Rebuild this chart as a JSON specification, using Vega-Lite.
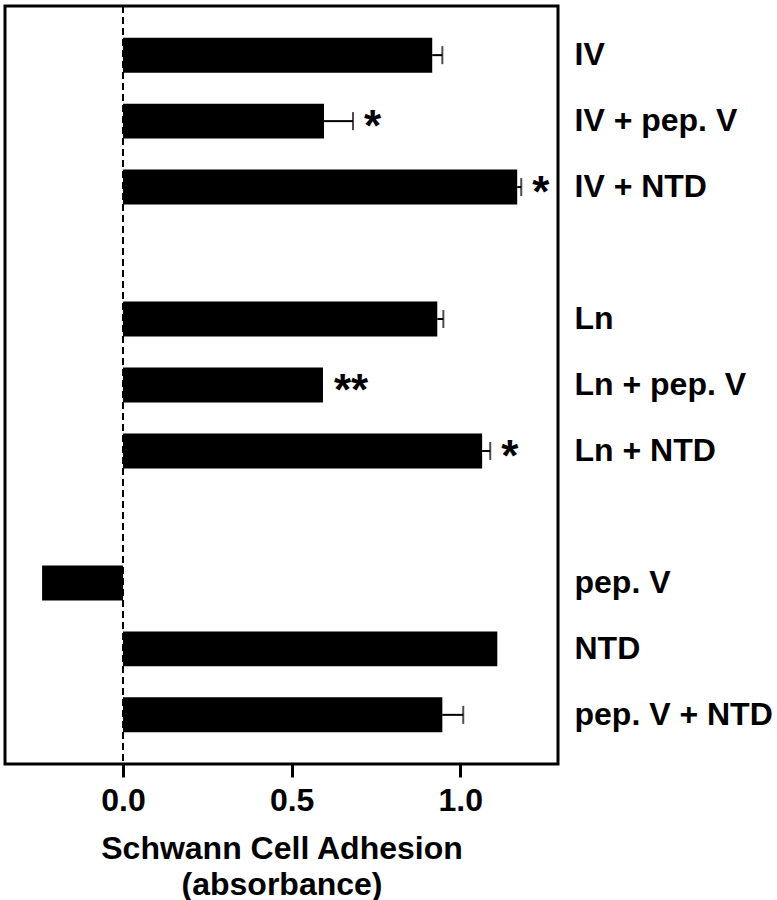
{
  "$schema": "https://vega.github.io/schema/vega-lite/v6.json",
  "autosize": {"type": "none"},
  "padding": {"left": 5, "top": 6, "right": 219, "bottom": 136},
  "width": 553,
  "height": 758,
  "background": "white",
  "config": {
    "view": {"stroke": "black", "strokeWidth": 3},
    "font": "Liberation Sans"
  },
  "data": {
    "values": [
      {"cond": "IV", "mean": 0.917, "hi": 0.947, "sig": ""},
      {"cond": "IV + pep. V", "mean": 0.596, "hi": 0.682, "sig": "*"},
      {"cond": "IV + NTD", "mean": 1.169, "hi": 1.181, "sig": "*"},
      {"cond": "Ln", "mean": 0.932, "hi": 0.95, "sig": ""},
      {"cond": "Ln + pep. V", "mean": 0.593, "hi": 0.593, "sig": "**"},
      {"cond": "Ln + NTD", "mean": 1.065, "hi": 1.089, "sig": "*"},
      {"cond": "pep. V", "mean": -0.24, "hi": -0.24, "sig": ""},
      {"cond": "NTD", "mean": 1.11, "hi": 1.11, "sig": ""},
      {"cond": "pep. V + NTD", "mean": 0.947, "hi": 1.009, "sig": ""}
    ]
  },
  "encoding": {
    "y": {
      "field": "cond",
      "type": "nominal",
      "scale": {
        "domain": ["IV", "IV + pep. V", "IV + NTD", "gap1", "Ln", "Ln + pep. V", "Ln + NTD", "gap2", "pep. V", "NTD", "pep. V + NTD"],
        "paddingInner": 0.47,
        "paddingOuter": 0.48
      },
      "axis": {
        "orient": "right",
        "values": ["IV", "IV + pep. V", "IV + NTD", "Ln", "Ln + pep. V", "Ln + NTD", "pep. V", "NTD", "pep. V + NTD"],
        "title": null,
        "domain": false,
        "ticks": false,
        "labelPadding": 16,
        "labelFontSize": 32,
        "labelFontWeight": "bold",
        "labelColor": "black",
        "labelAlign": "left",
        "labelLimit": 0
      }
    }
  },
  "layer": [
    {
      "data": {"values": [{"z": 0}]},
      "mark": {"type": "rule", "strokeDash": [7, 4], "strokeWidth": 2, "color": "black"},
      "encoding": {
        "x": {"field": "z", "type": "quantitative"},
        "y": null
      }
    },
    {
      "mark": {"type": "bar", "color": "black"},
      "encoding": {
        "x": {
          "field": "mean",
          "type": "quantitative",
          "scale": {"domain": [-0.35, 1.29], "nice": false, "zero": false},
          "axis": {
            "values": [0, 0.5, 1],
            "format": ".1f",
            "grid": false,
            "domain": false,
            "ticks": true,
            "tickSize": 13,
            "tickWidth": 3,
            "tickColor": "black",
            "labelPadding": 8,
            "labelFontSize": 32,
            "labelFontWeight": "bold",
            "labelColor": "black",
            "title": ["Schwann Cell Adhesion", "(absorbance)"],
            "titleFontSize": 32,
            "titleFontWeight": "bold",
            "titleColor": "black",
            "titleLineHeight": 36,
            "titlePadding": 17
          }
        },
        "x2": {"datum": 0}
      }
    },
    {
      "transform": [{"filter": "datum.hi > datum.mean"}],
      "mark": {"type": "rule", "strokeWidth": 2, "color": "black"},
      "encoding": {
        "x": {"field": "mean", "type": "quantitative"},
        "x2": {"field": "hi"}
      }
    },
    {
      "transform": [{"filter": "datum.hi > datum.mean"}],
      "mark": {"type": "tick", "orient": "vertical", "size": 18, "thickness": 2, "color": "black"},
      "encoding": {
        "x": {"field": "hi", "type": "quantitative"}
      }
    },
    {
      "transform": [{"filter": "datum.sig != ''"}],
      "mark": {"type": "text", "align": "left", "baseline": "alphabetic", "dx": 11, "dy": 20, "fontSize": 44, "fontWeight": "bold", "color": "black"},
      "encoding": {
        "x": {"field": "hi", "type": "quantitative"},
        "text": {"field": "sig"}
      }
    }
  ]
}
